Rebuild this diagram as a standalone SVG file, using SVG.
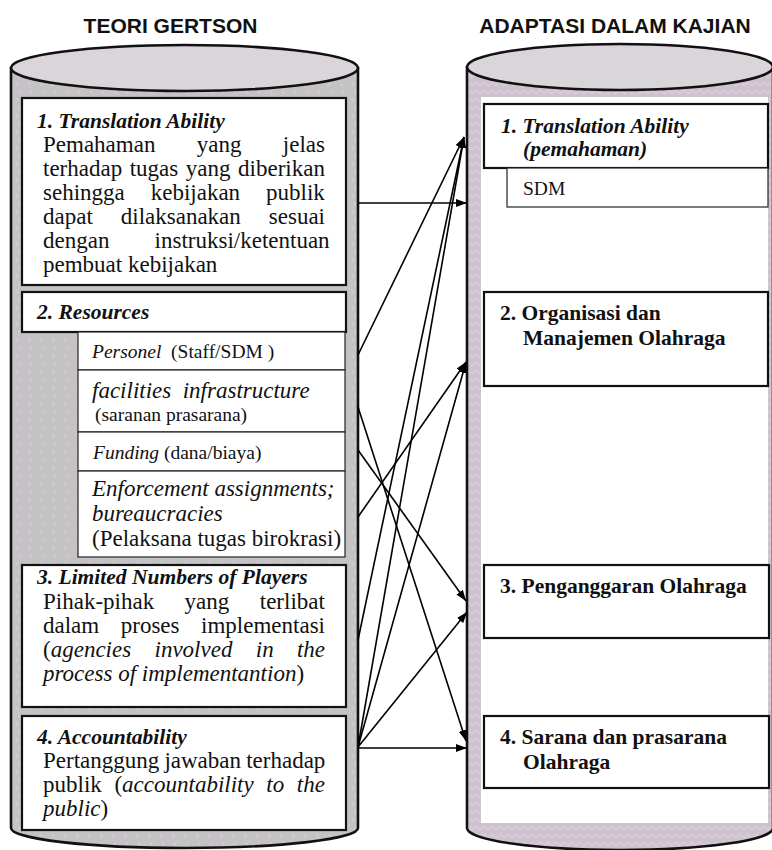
<svg xmlns="http://www.w3.org/2000/svg" width="772" height="850" viewBox="0 0 772 850">
  <style>
    .hdr { font-family: "Liberation Sans", Arial, sans-serif; font-weight: bold; font-size: 21px; fill: #111; }
    .ttl { font-family: "Liberation Serif", "Times New Roman", serif; font-weight: bold; font-style: italic; font-size: 21.5px; fill: #111; }
    .body { font-family: "Liberation Serif", "Times New Roman", serif; font-size: 23px; fill: #111; }
    .sub { font-family: "Liberation Serif", "Times New Roman", serif; font-size: 19.5px; fill: #111; }
    .rb { font-family: "Liberation Serif", "Times New Roman", serif; font-weight: bold; font-size: 21.5px; fill: #111; }
    .it { font-style: italic; }
    .box { fill: #fff; stroke: #111; stroke-width: 2.2; }
    .cell { fill: #fff; stroke: #222; stroke-width: 1.2; }
    .cyl { stroke: #111; stroke-width: 2.6; }
    .end { text-anchor: end; }
    .link { fill: none; stroke: #000; stroke-width: 1.6; marker-end: url(#arrow); }
  </style>
  <defs>
    <!-- grey side texture with small pink chevrons -->
    <pattern id="chevron" width="12" height="16" patternUnits="userSpaceOnUse">
      <rect width="12" height="16" fill="#c4c3c4"/>
      <path d="M4 2 l2.5 2 l-2.5 2" fill="none" stroke="#e9c4ea" stroke-width="1"/>
      <path d="M8.5 10 l-2.5 2 l2.5 2" fill="none" stroke="#e9c4ea" stroke-width="1"/>
    </pattern>
    <!-- light grey lid with pink dots -->
    <pattern id="dots" width="8" height="8" patternUnits="userSpaceOnUse">
      <rect width="8" height="8" fill="#d8d7d8"/>
      <rect x="2" y="2" width="1.3" height="1.3" fill="#ecc8ec"/>
      <rect x="6" y="6" width="1.3" height="1.3" fill="#ecc8ec"/>
    </pattern>
    <!-- grey/pink woven texture -->
    <pattern id="weave" width="8" height="8" patternUnits="userSpaceOnUse">
      <rect width="8" height="8" fill="#cbc4cb"/>
      <path d="M0 6 L4 2 L8 6" fill="none" stroke="#e6c6e6" stroke-width="1.4"/>
    </pattern>
    <marker id="arrow" markerUnits="userSpaceOnUse" markerWidth="12" markerHeight="8" refX="11" refY="4" orient="auto">
      <path d="M0 0 L11 4 L0 8 Z" fill="#000"/>
    </marker>
  </defs>

  <rect width="772" height="850" fill="#fff"/>

  <!-- column headings -->
  <text class="hdr" x="170.5" y="33" text-anchor="middle">TEORI GERTSON</text>
  <text class="hdr" x="615" y="33" text-anchor="middle">ADAPTASI DALAM KAJIAN</text>

  <!-- left cylinder -->
  <g id="cylinder-left">
    <path class="cyl" d="M11 68 L11 828 A173.5 20 0 0 0 358 828 L358 68 Z" fill="url(#chevron)"/>
    <ellipse class="cyl" cx="184.5" cy="68" rx="173.5" ry="23" fill="url(#dots)"/>
  </g>

  <!-- right cylinder -->
  <g id="cylinder-right">
    <path class="cyl" d="M467 67 L467 828 A153 22 0 0 0 773 828 L773 67 Z" fill="url(#weave)"/>
    <ellipse class="cyl" cx="620" cy="67" rx="153" ry="23" fill="url(#dots)"/>
    <rect x="481" y="97" width="287" height="726" fill="#fff"/>
  </g>

  <!-- left: Gertson's theory (justified lines use word-spacing) -->
  <g id="g-translation">
    <rect class="box" x="22" y="98" width="324" height="187"/>
    <text class="ttl" x="37" y="128">1. Translation Ability</text>
    <text class="body" x="43" y="152" word-spacing="35.6">Pemahaman yang jelas</text>
    <text class="body" x="43" y="176" word-spacing="1.8">terhadap tugas yang diberikan</text>
    <text class="body" x="43" y="200" word-spacing="20.2">sehingga kebijakan publik</text>
    <text class="body" x="43" y="224" word-spacing="22.2">dapat dilaksanakan sesuai</text>
    <text class="body" x="43" y="248" word-spacing="39.4">dengan instruksi/ketentuan</text>
    <text class="body" x="43" y="272">pembuat kebijakan</text>
  </g>

  <g id="g-resources">
    <rect class="box" x="22" y="292" width="324" height="40"/>
    <text class="ttl" x="37" y="319">2. Resources</text>
    <rect class="cell" x="78" y="332" width="267" height="38"/>
    <rect class="cell" x="78" y="370" width="267" height="62"/>
    <rect class="cell" x="78" y="432" width="267" height="39"/>
    <rect class="cell" x="78" y="471" width="267" height="86"/>
    <text class="sub" x="92" y="358"><tspan class="it">Personel</tspan>&#160; (Staff/SDM )</text>
    <text class="body it" x="92" y="398" font-size="23.5">facilities&#160; infrastructure</text>
    <text class="sub" x="95" y="421">(saranan prasarana)</text>
    <text class="sub" x="93" y="459"><tspan class="it">Funding</tspan> (dana/biaya)</text>
    <text class="body it" x="92" y="496" font-size="21.5">Enforcement assignments;</text>
    <text class="body it" x="92" y="521" font-size="21.5">bureaucracies</text>
    <text class="body" x="92" y="546">(Pelaksana tugas birokrasi)</text>
  </g>

  <g id="g-players">
    <rect class="box" x="22" y="565" width="324" height="142"/>
    <text class="ttl" x="37" y="584">3. Limited Numbers of Players</text>
    <text class="body" x="43" y="609" word-spacing="24.7">Pihak-pihak yang terlibat</text>
    <text class="body" x="43" y="633" word-spacing="15.8">dalam proses implementasi</text>
    <text class="body" x="43" y="657" word-spacing="17.6">(<tspan class="it">agencies involved in the</tspan></text>
    <text class="body" x="43" y="681"><tspan class="it">process of implementantion</tspan>)</text>
  </g>

  <g id="g-accountability">
    <rect class="box" x="22" y="716" width="324" height="114"/>
    <text class="ttl" x="37" y="744">4. Accountability</text>
    <text class="body" x="43" y="768" word-spacing="-0.6">Pertanggung jawaban terhadap</text>
    <text class="body" x="43" y="792" word-spacing="6.9">publik (<tspan class="it">accountability to the</tspan></text>
    <text class="body" x="43" y="816"><tspan class="it">public</tspan>)</text>
  </g>

  <!-- right: adaptation in this study -->
  <g id="r-translation">
    <rect class="box" x="484" y="104" width="284" height="64"/>
    <text class="ttl" x="501" y="133">1. Translation Ability</text>
    <text class="ttl" x="523" y="156">(pemahaman)</text>
    <rect class="cell" x="507" y="168" width="261" height="39"/>
    <text class="sub" x="523" y="195" font-size="20">SDM</text>
  </g>

  <g id="r-organisasi">
    <rect class="box" x="484" y="292" width="284" height="94"/>
    <text class="rb" x="500" y="320">2. Organisasi dan</text>
    <text class="rb" x="523" y="345">Manajemen Olahraga</text>
  </g>

  <g id="r-anggaran">
    <rect class="box" x="484" y="565" width="285" height="73"/>
    <text class="rb" x="500" y="593">3. Penganggaran Olahraga</text>
  </g>

  <g id="r-sarana">
    <rect class="box" x="484" y="716" width="285" height="72"/>
    <text class="rb" x="500" y="744">4. Sarana dan prasarana</text>
    <text class="rb" x="523" y="769">Olahraga</text>
  </g>

  <!-- connectors -->
  <g id="connectors">
    <path class="link" d="M358 203 L467 203"/>
    <path class="link" d="M358 355 L464 137"/>
    <path class="link" d="M358 407 L466 741"/>
    <path class="link" d="M358 450 L466 601"/>
    <path class="link" d="M358 517 L466 362"/>
    <path class="link" d="M358 640 L464 137"/>
    <path class="link" d="M358 747 L464 137"/>
    <path class="link" d="M358 747 L466 362"/>
    <path class="link" d="M358 747 L467 612"/>
    <path class="link" d="M358 748 L467 748"/>
  </g>
</svg>
